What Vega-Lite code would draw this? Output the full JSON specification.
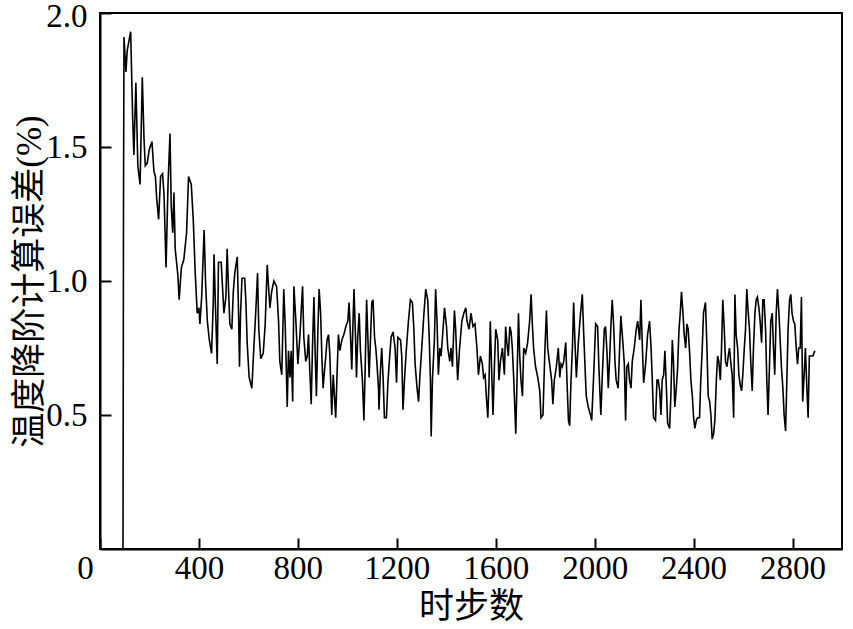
{
  "$schema": "https://vega.github.io/schema/vega-lite/v6.json",
  "width": 742,
  "height": 536,
  "autosize": "none",
  "padding": {"left": 100, "top": 13, "right": 11, "bottom": 80},
  "config": {
    "font": "Liberation Serif",
    "view": {"stroke": "black", "strokeWidth": 2},
    "axis": {
      "domainColor": "black",
      "domainWidth": 2,
      "tickColor": "black",
      "tickWidth": 2,
      "tickSize": -11,
      "grid": false,
      "labelFont": "Liberation Serif",
      "labelFontSize": 33,
      "labelColor": "black",
      "titleFont": "Liberation Serif, Noto Sans CJK SC",
      "titleFontSize": 35,
      "titleFontWeight": "normal",
      "titleColor": "black"
    }
  },
  "data": {
    "values": [
      {"s":93,"e":0},{"s":95,"e":1.27},{"s":97,"e":1.91},{"s":105,"e":1.78},{"s":110,"e":1.86},{"s":124,"e":1.93},{"s":132,"e":1.61},{"s":137,"e":1.47},{"s":145,"e":1.74},{"s":153,"e":1.43},{"s":162,"e":1.36},{"s":171,"e":1.76},{"s":178,"e":1.53},{"s":183,"e":1.43},{"s":191,"e":1.44},{"s":199,"e":1.49},{"s":210,"e":1.52},{"s":218,"e":1.41},{"s":224,"e":1.39},{"s":229,"e":1.31},{"s":237,"e":1.23},{"s":245,"e":1.39},{"s":253,"e":1.40},{"s":259,"e":1.32},{"s":267,"e":1.05},{"s":275,"e":1.36},{"s":283,"e":1.55},{"s":288,"e":1.28},{"s":294,"e":1.18},{"s":299,"e":1.33},{"s":304,"e":1.12},{"s":315,"e":1.02},{"s":320,"e":0.93},{"s":329,"e":1.05},{"s":339,"e":1.08},{"s":350,"e":1.18},{"s":358,"e":1.39},{"s":369,"e":1.36},{"s":377,"e":1.23},{"s":385,"e":1.03},{"s":393,"e":0.88},{"s":400,"e":0.90},
      {"s":404,"e":0.84},{"s":411,"e":0.94},{"s":417,"e":1.09},{"s":421,"e":1.19},{"s":427,"e":0.99},{"s":434,"e":0.85},{"s":442,"e":0.78},{"s":451,"e":0.73},{"s":458,"e":0.92},{"s":461,"e":1.10},{"s":467,"e":0.90},{"s":474,"e":0.69},{"s":479,"e":1.07},{"s":490,"e":1.07},{"s":501,"e":0.88},{"s":509,"e":0.94},{"s":514,"e":1.12},{"s":520,"e":0.96},{"s":525,"e":0.84},{"s":533,"e":0.82},{"s":539,"e":0.96},{"s":545,"e":1.03},{"s":555,"e":1.09},{"s":560,"e":0.89},{"s":564,"e":0.68},{"s":568,"e":0.87},{"s":574,"e":1.01},{"s":585,"e":1.01},{"s":590,"e":0.92},{"s":595,"e":0.77},{"s":603,"e":0.64},{"s":614,"e":0.60},{"s":622,"e":0.75},{"s":630,"e":0.89},{"s":637,"e":1.03},{"s":642,"e":0.82},{"s":650,"e":0.71},{"s":660,"e":0.73},{"s":668,"e":0.84},{"s":676,"e":1.06},{"s":682,"e":0.97},{"s":687,"e":0.90},{"s":694,"e":0.96},{"s":703,"e":1.00},{"s":714,"e":0.98},{"s":722,"e":0.85},{"s":727,"e":0.70},{"s":735,"e":0.65},{"s":743,"e":0.97},{"s":749,"e":0.83},{"s":757,"e":0.53},{"s":762,"e":0.74},{"s":768,"e":0.64},{"s":773,"e":0.74},{"s":779,"e":0.55},{"s":784,"e":0.98},{"s":792,"e":0.85},{"s":797,"e":0.75},
      {"s":800,"e":0.69},{"s":808,"e":0.79},{"s":813,"e":0.88},{"s":819,"e":0.98},{"s":824,"e":0.79},{"s":832,"e":0.70},{"s":838,"e":0.72},{"s":843,"e":0.80},{"s":848,"e":0.67},{"s":854,"e":0.54},{"s":859,"e":0.75},{"s":865,"e":0.94},{"s":870,"e":0.73},{"s":875,"e":0.57},{"s":881,"e":0.82},{"s":886,"e":0.97},{"s":892,"e":0.88},{"s":897,"e":0.72},{"s":902,"e":0.60},{"s":908,"e":0.67},{"s":913,"e":0.72},{"s":918,"e":0.78},{"s":924,"e":0.80},{"s":929,"e":0.73},{"s":937,"e":0.50},{"s":943,"e":0.65},{"s":948,"e":0.57},{"s":953,"e":0.49},{"s":959,"e":0.67},{"s":964,"e":0.80},{"s":970,"e":0.74},{"s":978,"e":0.78},{"s":986,"e":0.80},{"s":994,"e":0.83},{"s":1002,"e":0.85},{"s":1007,"e":0.92},{"s":1013,"e":0.79},{"s":1018,"e":0.67},{"s":1023,"e":0.85},{"s":1027,"e":0.97},{"s":1033,"e":0.79},{"s":1037,"e":0.64},{"s":1042,"e":0.79},{"s":1048,"e":0.88},{"s":1053,"e":0.74},{"s":1061,"e":0.63},{"s":1067,"e":0.48},{"s":1072,"e":0.67},{"s":1078,"e":0.93},{"s":1083,"e":0.79},{"s":1088,"e":0.64},{"s":1094,"e":0.79},{"s":1099,"e":0.92},{"s":1104,"e":0.93},{"s":1110,"e":0.79},{"s":1115,"e":0.75},{"s":1120,"e":0.69},{"s":1126,"e":0.60},{"s":1128,"e":0.52},{"s":1134,"e":0.67},{"s":1139,"e":0.75},{"s":1145,"e":0.63},{"s":1150,"e":0.49},{"s":1158,"e":0.49},{"s":1164,"e":0.62},{"s":1169,"e":0.69},{"s":1177,"e":0.79},{"s":1185,"e":0.81},{"s":1193,"e":0.75},{"s":1199,"e":0.62},
      {"s":1204,"e":0.79},{"s":1215,"e":0.78},{"s":1220,"e":0.72},{"s":1225,"e":0.52},{"s":1231,"e":0.63},{"s":1239,"e":0.75},{"s":1247,"e":0.85},{"s":1255,"e":0.93},{"s":1263,"e":0.92},{"s":1269,"e":0.82},{"s":1274,"e":0.69},{"s":1282,"e":0.60},{"s":1288,"e":0.55},{"s":1293,"e":0.64},{"s":1301,"e":0.75},{"s":1309,"e":0.87},{"s":1317,"e":0.97},{"s":1325,"e":0.93},{"s":1331,"e":0.79},{"s":1336,"e":0.63},{"s":1339,"e":0.42},{"s":1344,"e":0.63},{"s":1352,"e":0.78},{"s":1357,"e":0.97},{"s":1363,"e":0.84},{"s":1368,"e":0.65},{"s":1374,"e":0.75},{"s":1379,"e":0.72},{"s":1387,"e":0.82},{"s":1393,"e":0.90},{"s":1401,"e":0.83},{"s":1406,"e":0.75},{"s":1414,"e":0.70},{"s":1419,"e":0.75},{"s":1425,"e":0.68},{"s":1433,"e":0.89},{"s":1438,"e":0.82},{"s":1446,"e":0.63},{"s":1454,"e":0.75},{"s":1463,"e":0.85},{"s":1471,"e":0.88},{"s":1479,"e":0.90},{"s":1484,"e":0.85},{"s":1492,"e":0.82},{"s":1500,"e":0.88},{"s":1508,"e":0.83},{"s":1516,"e":0.84},{"s":1524,"e":0.75},{"s":1530,"e":0.65},{"s":1538,"e":0.72},{"s":1546,"e":0.69},{"s":1551,"e":0.64},
      {"s":1557,"e":0.65},{"s":1562,"e":0.57},{"s":1568,"e":0.49},{"s":1573,"e":0.63},{"s":1578,"e":0.85},{"s":1584,"e":0.65},{"s":1589,"e":0.50},{"s":1595,"e":0.69},{"s":1600,"e":0.82},{"s":1608,"e":0.78},{"s":1613,"e":0.63},{"s":1619,"e":0.70},{"s":1627,"e":0.75},{"s":1635,"e":0.65},{"s":1640,"e":0.83},{"s":1645,"e":0.77},{"s":1651,"e":0.72},{"s":1657,"e":0.83},{"s":1662,"e":0.81},{"s":1667,"e":0.75},{"s":1673,"e":0.63},{"s":1681,"e":0.43},{"s":1686,"e":0.63},{"s":1692,"e":0.88},{"s":1697,"e":0.72},{"s":1702,"e":0.63},{"s":1708,"e":0.57},{"s":1713,"e":0.75},{"s":1721,"e":0.73},{"s":1729,"e":0.77},{"s":1737,"e":0.85},{"s":1743,"e":0.95},{"s":1748,"e":0.84},{"s":1753,"e":0.75},{"s":1761,"e":0.68},{"s":1770,"e":0.64},{"s":1778,"e":0.59},{"s":1783,"e":0.49},{"s":1791,"e":0.50},{"s":1799,"e":0.75},{"s":1805,"e":0.89},{"s":1810,"e":0.75},{"s":1818,"e":0.69},{"s":1826,"e":0.63},{"s":1831,"e":0.54},{"s":1837,"e":0.63},{"s":1845,"e":0.68},{"s":1853,"e":0.75},{"s":1859,"e":0.64},{"s":1864,"e":0.69},{"s":1869,"e":0.68},{"s":1875,"e":0.70},{"s":1883,"e":0.77},{"s":1888,"e":0.63},{"s":1894,"e":0.48},{"s":1899,"e":0.46},{"s":1904,"e":0.62},
      {"s":1910,"e":0.75},{"s":1915,"e":0.92},{"s":1920,"e":0.78},{"s":1926,"e":0.64},{"s":1934,"e":0.77},{"s":1942,"e":0.87},{"s":1950,"e":0.95},{"s":1955,"e":0.82},{"s":1961,"e":0.68},{"s":1966,"e":0.57},{"s":1974,"e":0.53},{"s":1983,"e":0.50},{"s":1988,"e":0.48},{"s":1996,"e":0.65},{"s":2004,"e":0.84},{"s":2012,"e":0.83},{"s":2017,"e":0.68},{"s":2025,"e":0.50},{"s":2031,"e":0.65},{"s":2039,"e":0.82},{"s":2044,"e":0.83},{"s":2050,"e":0.73},{"s":2055,"e":0.60},{"s":2061,"e":0.72},{"s":2066,"e":0.84},{"s":2071,"e":0.93},{"s":2077,"e":0.83},{"s":2082,"e":0.70},{"s":2087,"e":0.63},{"s":2095,"e":0.60},{"s":2101,"e":0.75},{"s":2106,"e":0.87},{"s":2114,"e":0.77},{"s":2120,"e":0.69},{"s":2125,"e":0.48},{"s":2130,"e":0.68},{"s":2136,"e":0.69},{"s":2141,"e":0.63},{"s":2147,"e":0.60},{"s":2152,"e":0.70},{"s":2160,"e":0.75},{"s":2168,"e":0.82},{"s":2174,"e":0.85},{"s":2182,"e":0.78},{"s":2187,"e":0.93},{"s":2193,"e":0.75},{"s":2198,"e":0.62},{"s":2206,"e":0.69},{"s":2214,"e":0.80},{"s":2222,"e":0.85},{"s":2228,"e":0.75},{"s":2233,"e":0.63},{"s":2238,"e":0.49},{"s":2246,"e":0.48},{"s":2252,"e":0.63},
      {"s":2257,"e":0.63},{"s":2263,"e":0.59},{"s":2268,"e":0.50},{"s":2273,"e":0.63},{"s":2279,"e":0.65},{"s":2284,"e":0.74},{"s":2290,"e":0.60},{"s":2295,"e":0.47},{"s":2303,"e":0.45},{"s":2308,"e":0.57},{"s":2314,"e":0.78},{"s":2319,"e":0.69},{"s":2324,"e":0.53},{"s":2330,"e":0.60},{"s":2335,"e":0.67},{"s":2341,"e":0.82},{"s":2346,"e":0.88},{"s":2351,"e":0.96},{"s":2357,"e":0.88},{"s":2362,"e":0.80},{"s":2368,"e":0.75},{"s":2373,"e":0.84},{"s":2378,"e":0.82},{"s":2384,"e":0.73},{"s":2389,"e":0.63},{"s":2395,"e":0.57},{"s":2400,"e":0.49},{"s":2405,"e":0.45},{"s":2411,"e":0.48},{"s":2416,"e":0.49},{"s":2424,"e":0.49},{"s":2429,"e":0.63},{"s":2435,"e":0.75},{"s":2440,"e":0.88},{"s":2448,"e":0.92},{"s":2454,"e":0.75},{"s":2459,"e":0.57},{"s":2465,"e":0.55},{"s":2470,"e":0.50},{"s":2475,"e":0.41},{"s":2481,"e":0.43},{"s":2486,"e":0.48},{"s":2492,"e":0.63},{"s":2497,"e":0.72},{"s":2502,"e":0.70},{"s":2508,"e":0.63},{"s":2513,"e":0.75},{"s":2518,"e":0.93},{"s":2524,"e":0.82},{"s":2529,"e":0.70},{"s":2535,"e":0.68},{"s":2540,"e":0.72},{"s":2545,"e":0.75},{"s":2551,"e":0.69},{"s":2556,"e":0.65},{"s":2562,"e":0.49},{"s":2567,"e":0.95},{"s":2572,"e":0.80},{"s":2578,"e":0.75},{"s":2583,"e":0.65},{"s":2589,"e":0.61},{"s":2594,"e":0.59},{"s":2599,"e":0.65},
      {"s":2605,"e":0.75},{"s":2610,"e":0.82},{"s":2615,"e":0.97},{"s":2621,"e":0.88},{"s":2626,"e":0.82},{"s":2631,"e":0.70},{"s":2637,"e":0.59},{"s":2642,"e":0.75},{"s":2648,"e":0.88},{"s":2653,"e":0.93},{"s":2658,"e":0.94},{"s":2664,"e":0.90},{"s":2669,"e":0.85},{"s":2675,"e":0.77},{"s":2680,"e":0.93},{"s":2685,"e":0.93},{"s":2691,"e":0.82},{"s":2696,"e":0.63},{"s":2701,"e":0.50},{"s":2707,"e":0.69},{"s":2712,"e":0.85},{"s":2718,"e":0.88},{"s":2723,"e":0.75},{"s":2728,"e":0.65},{"s":2734,"e":0.88},{"s":2739,"e":0.97},{"s":2745,"e":0.88},{"s":2750,"e":0.78},{"s":2755,"e":0.68},{"s":2761,"e":0.60},{"s":2766,"e":0.50},{"s":2772,"e":0.44},{"s":2777,"e":0.63},{"s":2782,"e":0.82},{"s":2788,"e":0.93},{"s":2793,"e":0.95},{"s":2798,"e":0.88},{"s":2804,"e":0.85},{"s":2809,"e":0.84},{"s":2815,"e":0.75},{"s":2820,"e":0.69},{"s":2825,"e":0.75},{"s":2831,"e":0.75},{"s":2836,"e":0.94},{"s":2841,"e":0.55},{"s":2847,"e":0.65},{"s":2852,"e":0.75},{"s":2858,"e":0.60},{"s":2863,"e":0.49},{"s":2868,"e":0.72},{"s":2874,"e":0.72},{"s":2882,"e":0.72},{"s":2890,"e":0.74}
    ]
  },
  "mark": {"type": "line", "color": "black", "strokeWidth": 1.6, "clip": true},
  "encoding": {
    "x": {
      "field": "s",
      "type": "quantitative",
      "title": "时步数",
      "scale": {"domain": [0, 3000], "nice": false},
      "axis": {
        "values": [0, 400, 800, 1200, 1600, 2000, 2400, 2800],
        "format": "d",
        "labelFlush": false,
        "labelPadding": 14,
        "labelOffset": {"expr": "datum.value == 0 ? -15 : 0"},
        "titlePadding": 4
      }
    },
    "y": {
      "field": "e",
      "type": "quantitative",
      "title": "温度降阶计算误差(%)",
      "scale": {"domain": [0, 2], "nice": false},
      "axis": {
        "values": [0.5, 1, 1.5, 2],
        "format": ".1f",
        "labelPadding": 24,
        "labelOffset": {"expr": "datum.value == 2 ? 3 : 0"},
        "titlePadding": -2,
        "titleY": 268
      }
    }
  }
}
